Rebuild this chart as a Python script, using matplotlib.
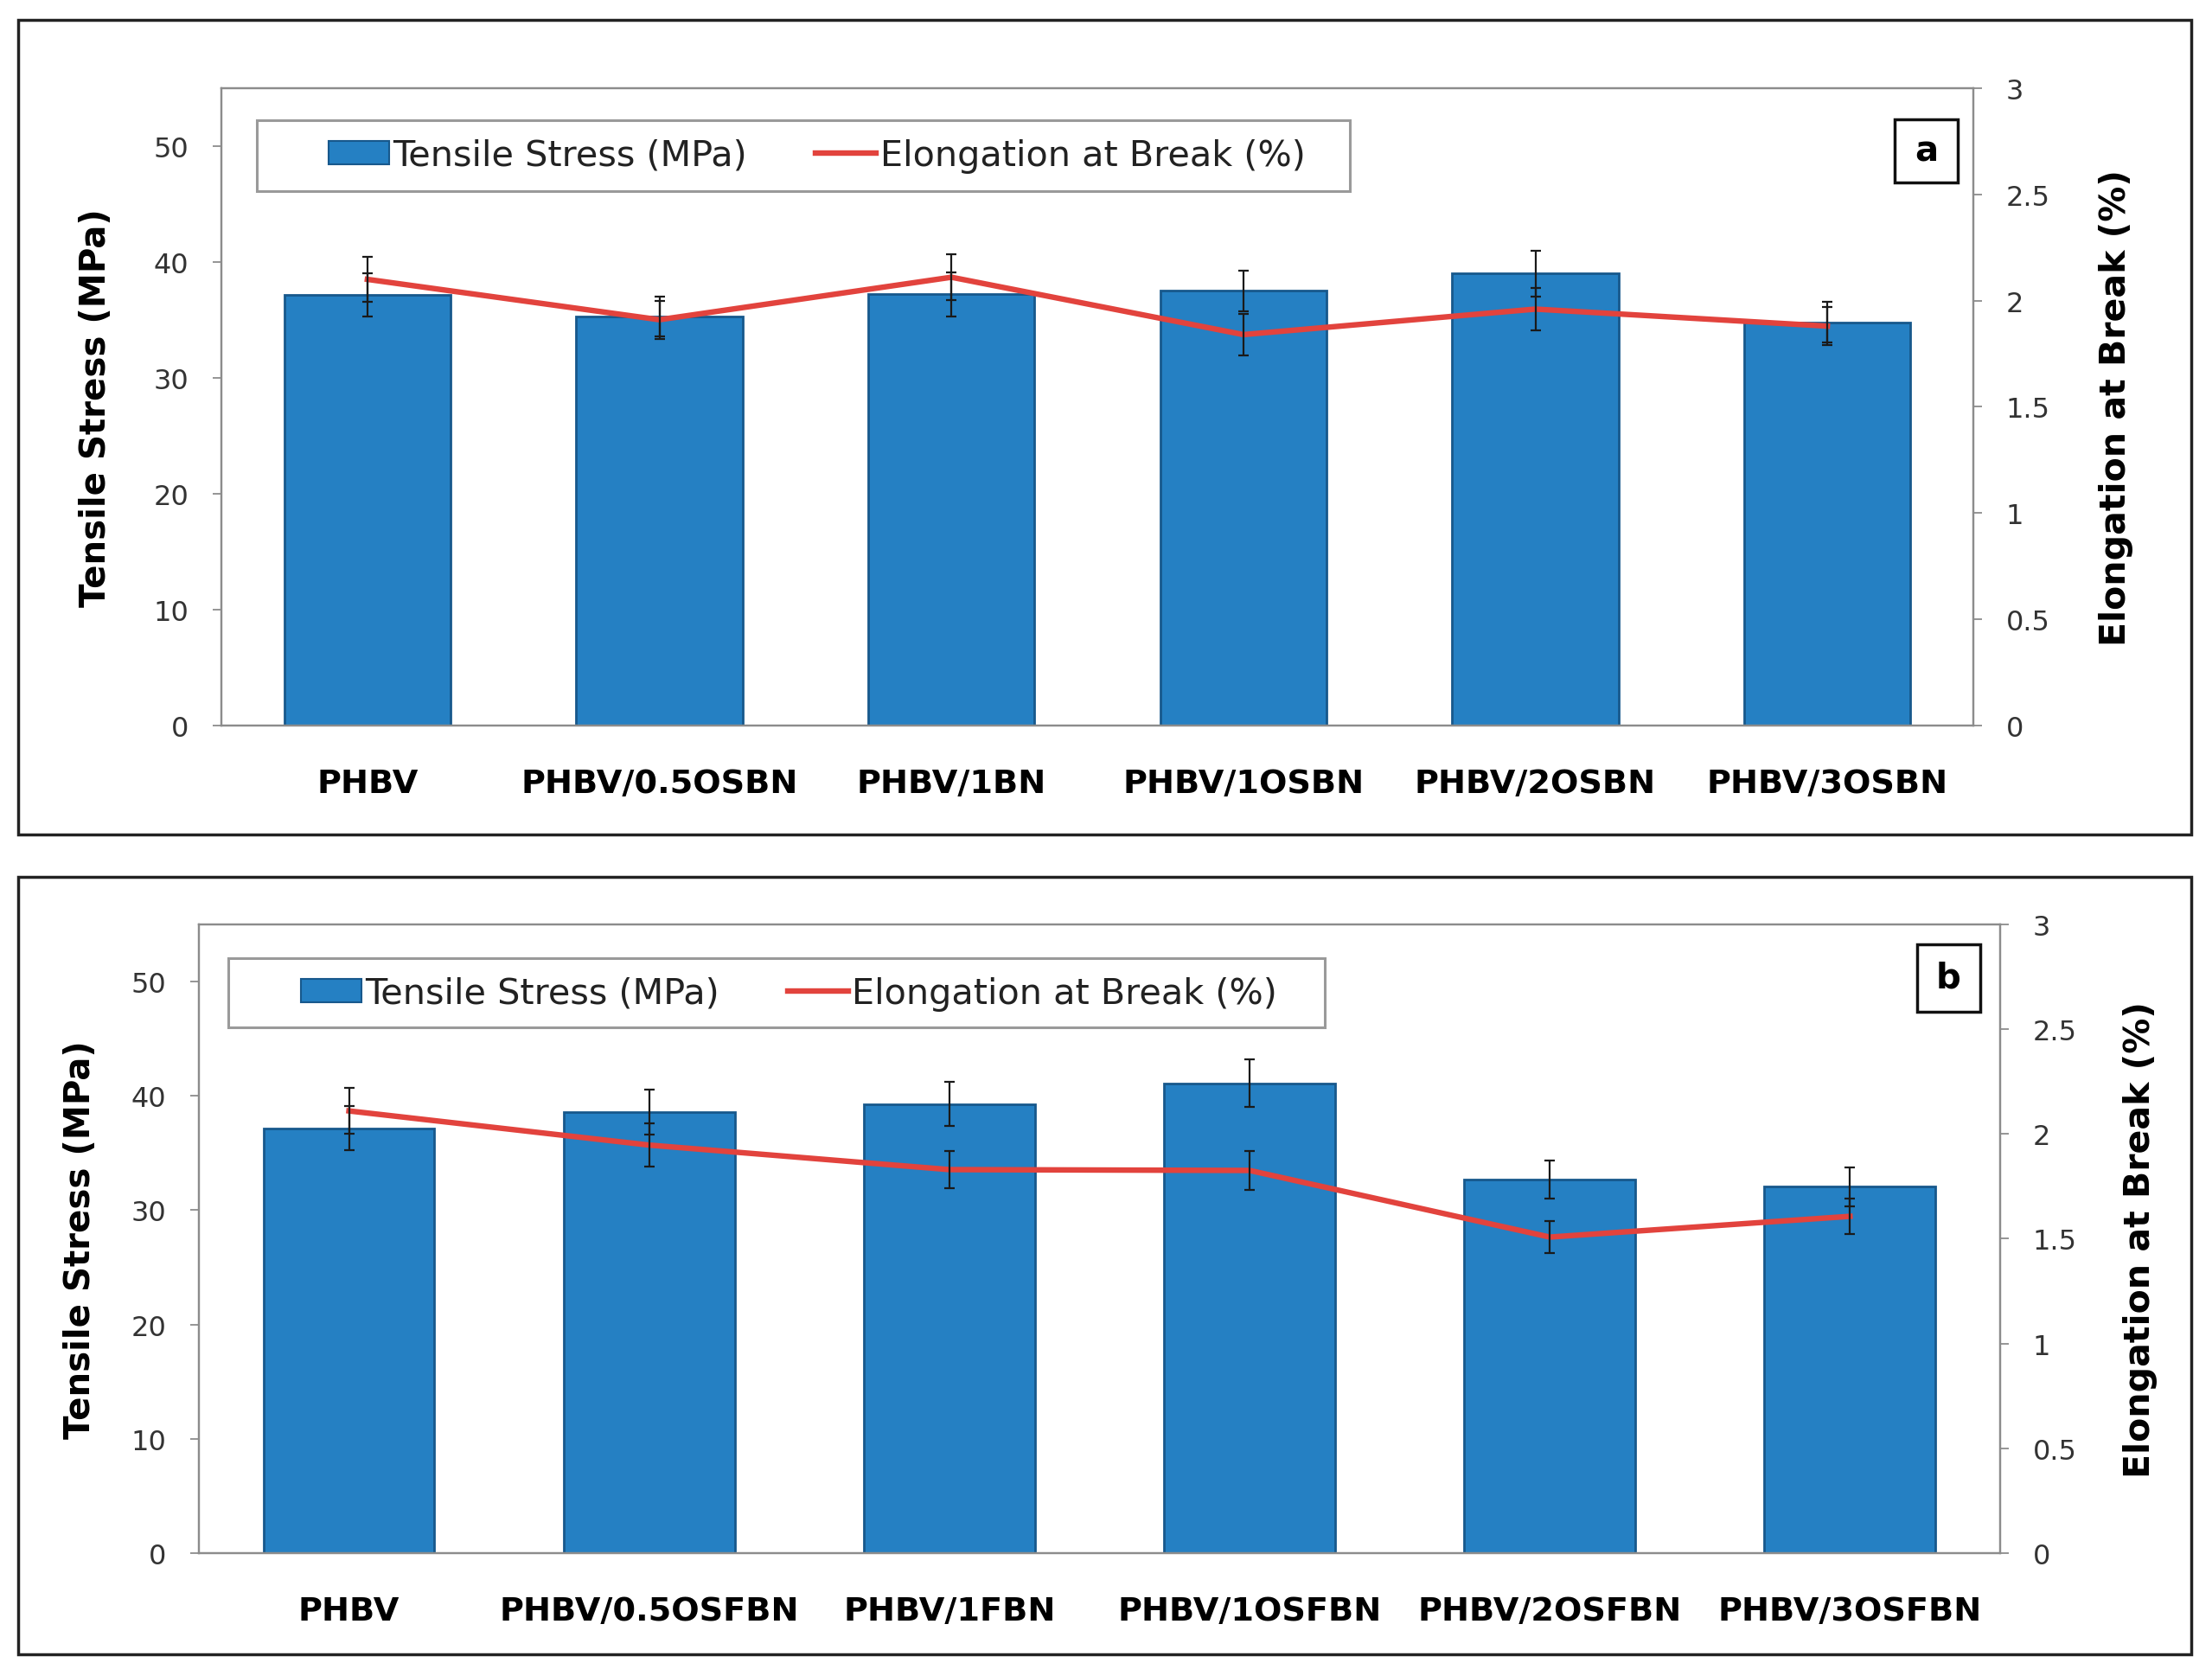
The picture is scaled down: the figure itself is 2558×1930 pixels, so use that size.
import matplotlib
matplotlib.use("Agg")
import matplotlib.pyplot as plt
from matplotlib.patches import Rectangle, Patch
from matplotlib.lines import Line2D

plt.rcParams['font.family'] = ['DejaVu Sans']

# ---------------- data ----------------
cats_a = ["PHBV", "PHBV/0.5OSBN", "PHBV/1BN", "PHBV/1OSBN", "PHBV/2OSBN", "PHBV/3OSBN"]
stress_a = [37.15, 35.3, 37.2, 37.5, 39.0, 34.8]
stress_err_a = [1.86, 1.73, 1.9, 1.76, 2.0, 1.76]
elong_a = [2.10, 1.91, 2.11, 1.84, 1.96, 1.88]
elong_err_a = [0.105, 0.09, 0.107, 0.097, 0.10, 0.09]

cats_b = ["PHBV", "PHBV/0.5OSFBN", "PHBV/1FBN", "PHBV/1OSFBN", "PHBV/2OSFBN", "PHBV/3OSFBN"]
stress_b = [37.16, 38.57, 39.27, 41.09, 32.7, 32.05]
stress_err_b = [1.92, 1.96, 1.93, 2.07, 1.65, 1.7]
elong_b = [2.11, 1.947, 1.83, 1.826, 1.508, 1.607]
elong_err_b = [0.109, 0.103, 0.09, 0.091, 0.077, 0.084]

left_ticks = [0, 10, 20, 30, 40, 50]
right_ticks = [0, 0.5, 1, 1.5, 2, 2.5, 3]
right_ticklabels = ["0", "0.5", "1", "1.5", "2", "2.5", "3"]

BAR_COLOR = "#2580C3"
BAR_EDGE = "#17588C"
LINE_COLOR = "#E2433D"
SPINE = "#8C8C8C"

W, H = 2558, 1931
fig = plt.figure(figsize=(W / 100, H / 100), dpi=100)


def panel(ax_rect, frame_rect, cats, stress, serr, elong, eerr,
          leg_rect, leg_anchor, lab_rect, lab, ylab_lx, ylab_rx):
    # outer frame
    fig.patches.append(Rectangle((frame_rect[0], frame_rect[1]), frame_rect[2], frame_rect[3],
                                 transform=fig.transFigure, fill=False, edgecolor="#222222",
                                 linewidth=2.5, zorder=0))
    ax = fig.add_axes(ax_rect)
    x = list(range(len(cats)))
    ax.bar(x, stress, width=0.57, color=BAR_COLOR, edgecolor=BAR_EDGE, linewidth=2, zorder=2)
    ax.errorbar(x, stress, yerr=serr, fmt='none', ecolor="#1a1a1a", elinewidth=1.6,
                capsize=4, capthick=1.6, zorder=3)
    ax.set_xlim(-0.5, len(cats) - 0.5)
    ax.set_ylim(0, 55)
    ax.set_yticks(left_ticks)
    ax.set_xticks(x)
    ax.set_xticklabels(cats, fontsize=27.5, fontweight='bold')
    ax.tick_params(axis='x', length=0, pad=35)
    ax.tick_params(axis='y', direction='out', length=7, width=1.3, color=SPINE,
                   labelsize=23, pad=20, labelcolor="#333333")
    for s in ax.spines.values():
        s.set_color(SPINE)
        s.set_linewidth(1.6)

    ax2 = ax.twinx()
    ax2.plot(x, elong, color=LINE_COLOR, linewidth=4.6, zorder=4)
    ax2.errorbar(x, elong, yerr=eerr, fmt='none', ecolor="#1a1a1a", elinewidth=1.6,
                 capsize=4, capthick=1.6, zorder=5)
    ax2.set_ylim(0, 3)
    ax2.set_yticks(right_ticks)
    ax2.set_yticklabels(right_ticklabels)
    ax2.tick_params(axis='y', direction='out', length=7, width=1.3, color=SPINE,
                    labelsize=23, pad=20, labelcolor="#333333")
    for s in ax2.spines.values():
        s.set_color(SPINE)
        s.set_linewidth(1.6)

    ax.text(ylab_lx, 0.5, "Tensile Stress (MPa)", transform=ax.transAxes, rotation=90,
            ha='center', va='center', fontsize=29, fontweight='bold')
    ax.text(ylab_rx, 0.5, "Elongation at Break (%)", transform=ax.transAxes, rotation=90,
            ha='center', va='center', fontsize=29.5, fontweight='bold')

    # legend
    fig.patches.append(Rectangle((leg_rect[0], leg_rect[1]), leg_rect[2], leg_rect[3],
                                 transform=fig.transFigure, facecolor='white',
                                 edgecolor="#9a9a9a", linewidth=2.2, zorder=6))
    handles = [Patch(facecolor=BAR_COLOR, edgecolor=BAR_EDGE, linewidth=1.5),
               Line2D([0], [0], color=LINE_COLOR, linewidth=4.6)]
    leg = fig.legend(handles, ["Tensile Stress (MPa)", "Elongation at Break (%)"],
                     loc='center left', bbox_to_anchor=leg_anchor, bbox_transform=fig.transFigure,
                     ncol=2, frameon=False, fontsize=29.8, handlelength=1.7, handleheight=0.62,
                     handletextpad=0.1, columnspacing=1.9, borderpad=0, borderaxespad=0)
    leg.set_zorder(7)
    for t in leg.get_texts():
        t.set_color("#222222")

    # panel label
    fig.patches.append(Rectangle((lab_rect[0], lab_rect[1]), lab_rect[2], lab_rect[3],
                                 transform=fig.transFigure, facecolor='white',
                                 edgecolor="#111111", linewidth=2.5, zorder=6))
    fig.text(lab_rect[0] + lab_rect[2] / 2, lab_rect[1] + lab_rect[3] / 2, lab,
             ha='center', va='center', fontsize=29, fontweight='bold', zorder=8)
    return ax, ax2


panel([0.1001, 0.5650, 0.7920, 0.3817], (0.0082, 0.4997, 0.9824, 0.4879),
      cats_a, stress_a, stress_err_a, elong_a, elong_err_a,
      (0.1161, 0.8850, 0.4941, 0.0425), (0.1486, 0.9063),
      (0.8565, 0.8902, 0.0285, 0.0378), "a", -0.0716, 1.0815)

panel([0.0899, 0.0694, 0.8143, 0.3765], (0.0082, 0.0088, 0.9824, 0.4656),
      cats_b, stress_b, stress_err_b, elong_b, elong_err_b,
      (0.1032, 0.3843, 0.4957, 0.0414), (0.1359, 0.4045),
      (0.8667, 0.3936, 0.0285, 0.0404), "b", -0.0658, 1.0778)

fig.savefig("out.png", dpi=100, facecolor='white')
